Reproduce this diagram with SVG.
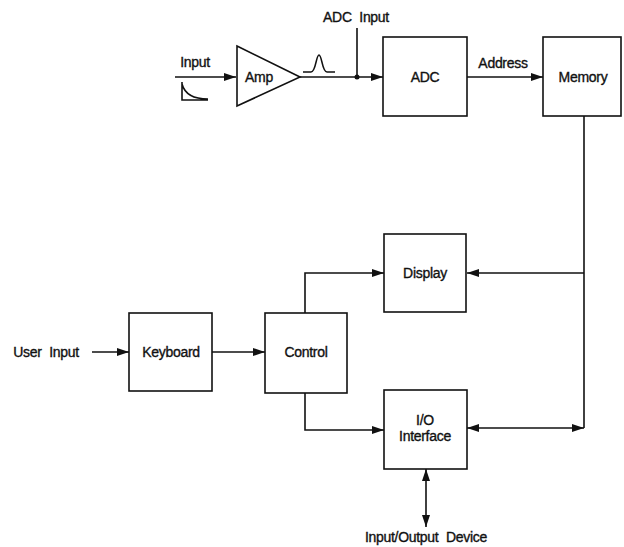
<svg xmlns="http://www.w3.org/2000/svg" width="624" height="547" viewBox="0 0 624 547">
<style>
.box{fill:#fff;stroke:#111;stroke-width:1.6}
.ln{fill:none;stroke:#111;stroke-width:1.6}
text{font-family:"Liberation Sans",Arial,sans-serif;font-size:14px;fill:#111;stroke:#111;stroke-width:0.35;text-anchor:middle;dominant-baseline:central;letter-spacing:-0.3px}
.ws{word-spacing:4px}
</style>
<defs>
<marker id="ah" viewBox="0 0 12 8" refX="12" refY="4" markerWidth="12" markerHeight="8" markerUnits="userSpaceOnUse" orient="auto-start-reverse">
<path d="M0,0 L12,4 L0,8 Z" fill="#111"/>
</marker>
</defs>
<rect width="624" height="547" fill="#fff"/>
<g id="connectors">
<line class="ln" x1="175" y1="77" x2="236" y2="77" marker-end="url(#ah)"/>
<path class="ln" d="M182,82 L182,100 L208,100 M182,84 Q186,99 208,99"/>
<line class="ln" x1="300" y1="77" x2="383" y2="77" marker-end="url(#ah)"/>
<path class="ln" d="M303,72 L311,72 C316,72 316,55 319,55 C322,55 322,72 327,72 L335,72"/>
<line class="ln" x1="357" y1="28" x2="357" y2="77"/>
<circle cx="357" cy="77" r="2.5" fill="#111"/>
<line class="ln" x1="467" y1="77" x2="543" y2="77" marker-end="url(#ah)"/>
<path class="ln" d="M584,116 L584,428"/>
<line class="ln" x1="584" y1="273" x2="467" y2="273" marker-end="url(#ah)"/>
<line class="ln" x1="467" y1="428" x2="584" y2="428" marker-start="url(#ah)" marker-end="url(#ah)"/>
<path class="ln" d="M305,313 L305,273 L384,273" marker-end="url(#ah)"/>
<path class="ln" d="M305,393 L305,430 L384,430" marker-end="url(#ah)"/>
<line class="ln" x1="92" y1="352" x2="129" y2="352" marker-end="url(#ah)"/>
<line class="ln" x1="212" y1="352" x2="265" y2="352" marker-end="url(#ah)"/>
<line class="ln" x1="426" y1="469" x2="426" y2="527" marker-start="url(#ah)" marker-end="url(#ah)"/>
</g>
<g id="amp">
<path class="box" d="M237,46 L300,77 L237,106 Z"/>
<text x="259" y="77">Amp</text>
</g>
<g id="adc">
<rect class="box" x="383" y="37" width="84" height="79"/>
<text x="425" y="77">ADC</text>
</g>
<g id="memory">
<rect class="box" x="543" y="37" width="78" height="79"/>
<text x="583" y="77">Memory</text>
</g>
<g id="display">
<rect class="box" x="384" y="234" width="82" height="78"/>
<text x="425" y="273">Display</text>
</g>
<g id="keyboard">
<rect class="box" x="129" y="313" width="83" height="78"/>
<text x="171" y="352">Keyboard</text>
</g>
<g id="control">
<rect class="box" x="265" y="313" width="82" height="80"/>
<text x="306" y="352">Control</text>
</g>
<g id="io">
<rect class="box" x="384" y="390" width="83" height="79"/>
<text x="425" y="420">I/O</text>
<text x="425" y="436">Interface</text>
</g>
<g id="labels">
<text x="195" y="62">Input</text>
<text class="ws" x="356" y="17">ADC Input</text>
<text x="503" y="63">Address</text>
<text class="ws" x="46" y="352">User Input</text>
<text class="ws" x="426" y="537">Input/Output Device</text>
</g>
</svg>
